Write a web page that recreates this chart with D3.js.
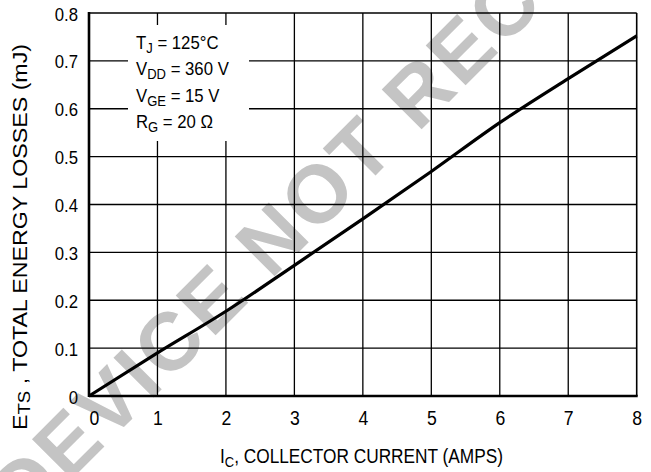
<!DOCTYPE html>
<html><head><meta charset="utf-8">
<script src="https://cdn.jsdelivr.net/npm/d3@7"></script>
<style>
html,body{margin:0;padding:0;background:#fff;}
svg{display:block;}
text{font-family:"Liberation Sans","Arial",sans-serif;fill:#000;}
</style></head>
<body>
<div id="chart"></div>
<script>
const currentA = [0, 1, 2, 3, 4, 5, 6, 7, 8];
const energyMJ = [0, 0.09, 0.177, 0.273, 0.37, 0.469, 0.571, 0.663, 0.752];
const xTicks = [0, 1, 2, 3, 4, 5, 6, 7, 8];
const yTicks = [0, 0.1, 0.2, 0.3, 0.4, 0.5, 0.6, 0.7, 0.8];
const yTickLabels = ["0", "0.1", "0.2", "0.3", "0.4", "0.5", "0.6", "0.7", "0.8"];
const conditions = [
  ["T", "J", " = 125°C"],
  ["V", "DD", " = 360 V"],
  ["V", "GE", " = 15 V"],
  ["R", "G", " = 20 Ω"]
];
const watermark = "DEVICE NOT RECO";

const W = 651, H = 472;
const L = 89, R = 636.7, T = 13, B = 396;
const svg = d3.select("#chart").append("svg").attr("width", W).attr("height", H);

const x = d3.scaleLinear().domain([0, 8]).range([L, R]);
const y = d3.scaleLinear().domain([0, 0.8]).range([B, T]);

function condense(sel, k) {
  sel.each(function () {
    const len = this.getComputedTextLength();
    d3.select(this).attr("textLength", len * k).attr("lengthAdjust", "spacingAndGlyphs");
  });
}

// watermark
svg.append("text")
  .attr("transform", "translate(24,527) rotate(-45)")
  .attr("font-weight", "bold")
  .attr("font-size", 82)
  .attr("letter-spacing", 3)
  .style("fill", "#c4c4c4")
  .text(watermark);

// grid
const g = svg.append("g");
g.selectAll("line.v").data(xTicks.slice(1, -1)).join("line")
  .attr("x1", d => x(d)).attr("x2", d => x(d))
  .attr("y1", T).attr("y2", B)
  .attr("stroke", "#000").attr("stroke-width", 1.3);
g.selectAll("line.h").data(yTicks.slice(1, -1)).join("line")
  .attr("x1", L).attr("x2", R)
  .attr("y1", d => y(d)).attr("y2", d => y(d))
  .attr("stroke", "#000").attr("stroke-width", 1.3);
g.append("line").attr("x1", L).attr("x2", R).attr("y1", T).attr("y2", T).attr("stroke", "#000").attr("stroke-width", 1.6);
g.append("line").attr("x1", R).attr("x2", R).attr("y1", T).attr("y2", B).attr("stroke", "#000").attr("stroke-width", 1.6);
g.append("line").attr("x1", L).attr("x2", R + 1).attr("y1", B).attr("y2", B).attr("stroke", "#000").attr("stroke-width", 2.6);
g.append("line").attr("x1", L).attr("x2", L).attr("y1", T - 1).attr("y2", B + 1).attr("stroke", "#000").attr("stroke-width", 2.6);

// annotation box
svg.append("rect").attr("x", 128).attr("y", 25).attr("width", 121).attr("height", 116).attr("fill", "#fff");
const ann = svg.append("g");
conditions.forEach((c, i) => {
  const t = ann.append("text").attr("x", 136).attr("y", 49 + i * 26.3).attr("font-size", 18);
  t.append("tspan").text(c[0]);
  t.append("tspan").attr("dy", 4).attr("font-size", 14).text(c[1]);
  t.append("tspan").attr("dy", -4).text(c[2]);
  condense(t, 0.93);
});

// curve
const line = d3.line().x((d, i) => x(currentA[i])).y(d => y(d)).curve(d3.curveMonotoneX);
svg.append("path").datum(energyMJ).attr("d", line)
  .attr("fill", "none").attr("stroke", "#000").attr("stroke-width", 3.2);

// tick labels
const xAxis = d3.axisBottom(x).tickValues(xTicks).tickSize(0).tickPadding(0).tickFormat(d3.format("d"));
const xa = svg.append("g").attr("transform", `translate(0,${B})`).call(xAxis);
xa.select(".domain").remove();
xa.selectAll("text").attr("font-size", 20).attr("font-family", null).attr("y", 29).attr("dy", 0)
  .attr("dx", d => d === 0 ? 5 : 0);
condense(xa.selectAll("text"), 0.88);

const yAxis = d3.axisLeft(y).tickValues(yTicks).tickSize(0).tickPadding(0).tickFormat((d, i) => yTickLabels[i]);
const ya = svg.append("g").attr("transform", `translate(${L},0)`).call(yAxis);
ya.select(".domain").remove();
ya.selectAll("text").attr("font-size", 19).attr("font-family", null).attr("x", -11).attr("dy", "0.37em");
condense(ya.selectAll("text"), 0.88);

// axis titles
const xt = svg.append("text").attr("x", 361.5).attr("y", 463).attr("text-anchor", "middle").attr("font-size", 20);
xt.append("tspan").text("I");
xt.append("tspan").attr("dy", 4).attr("font-size", 15).text("C");
xt.append("tspan").attr("dy", -4).text(", COLLECTOR CURRENT (AMPS)");
xt.attr("textLength", 283).attr("lengthAdjust", "spacingAndGlyphs");

const yt = svg.append("text").attr("transform", "translate(27,237) rotate(-90)").attr("text-anchor", "middle").attr("font-size", 20);
yt.append("tspan").text("E");
yt.append("tspan").attr("dy", 3).attr("font-size", 16).text("TS");
yt.append("tspan").attr("dy", -3).text(" , TOTAL ENERGY LOSSES (mJ)");
yt.attr("textLength", 386).attr("lengthAdjust", "spacingAndGlyphs");
</script>
</body></html>
